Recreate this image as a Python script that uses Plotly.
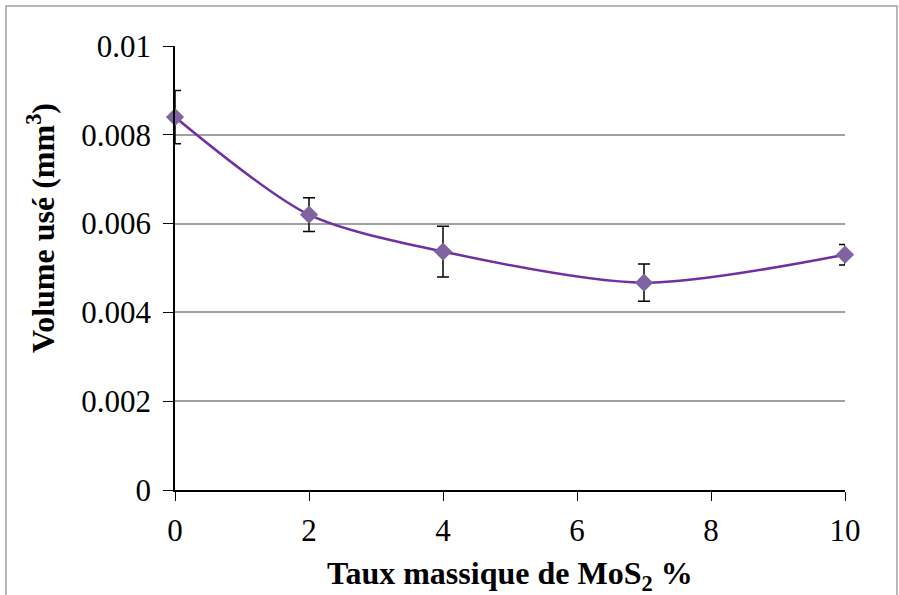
import plotly.graph_objects as go

taux = [0, 2, 4, 7, 10]
volume = [0.0084, 0.0062, 0.00537, 0.00467, 0.0053]
erreur = [0.0006, 0.00038, 0.00057, 0.00042, 0.00023]
y_ticks = [0, 0.002, 0.004, 0.006, 0.008, 0.01]
y_ticklabels = ["0", "0.002", "0.004", "0.006", "0.008", "0.01"]
x_ticks = [0, 2, 4, 6, 8, 10]

font_family = "Liberation Serif, Times New Roman, serif"

fig = go.Figure()
fig.add_trace(go.Scatter(
    x=taux, y=volume, mode="lines",
    line=dict(color="#7030A0", width=2.5, shape="spline", smoothing=0.8),
    hoverinfo="skip", cliponaxis=False, showlegend=False,
))
fig.add_trace(go.Scatter(
    x=taux, y=volume, mode="markers",
    marker=dict(symbol="diamond", size=14, color="#8064A2"),
    error_y=dict(type="data", array=erreur, visible=True, color="black", thickness=1.5, width=6),
    cliponaxis=False, showlegend=False,
))

L, R, T, B = 175, 54, 46, 105
W, H = 899, 595
pw, ph = W - L - R, H - T - B

fig.update_layout(
    width=W, height=H,
    margin=dict(l=L, r=R, t=T, b=B),
    paper_bgcolor="white", plot_bgcolor="white",
    font=dict(family=font_family, color="black", size=31),
    xaxis=dict(
        range=[0, 10], tickvals=x_ticks, showgrid=False, zeroline=False,
        showline=True, linecolor="black", linewidth=1.5,
        ticks="outside", ticklen=9, tickcolor="black", tickwidth=1,
        tickfont=dict(size=31), ticklabelstandoff=3,
    ),
    yaxis=dict(
        range=[0, 0.01], tickvals=y_ticks, ticktext=y_ticklabels,
        showgrid=True, gridcolor="#a0a0a0", gridwidth=2, zeroline=False,
        showline=True, linecolor="black", linewidth=1.5,
        ticks="outside", ticklen=10, tickcolor="black", tickwidth=1,
        tickfont=dict(size=31), ticklabelstandoff=6,
    ),
    annotations=[
        dict(text="<b>Taux massique de MoS<sub>2</sub> %</b>", xref="paper", yref="paper",
             x=0.5, y=(491 - 576) / ph, xanchor="center", yanchor="middle",
             showarrow=False, font=dict(size=32, family=font_family)),
        dict(text="<b>Volume usé (mm<sup>3</sup>)</b>", xref="paper", yref="paper",
             x=(41 - L) / pw, y=(491 - 229) / ph, xanchor="center", yanchor="middle",
             textangle=-90, showarrow=False, font=dict(size=32, family=font_family)),
    ],
    shapes=[
        dict(type="rect", xref="paper", yref="paper",
             x0=(6 - L) / pw, x1=(897 - L) / pw, y0=(491 - 605) / ph, y1=(491 - 7) / ph,
             line=dict(color="#a0a0a0", width=1.5), fillcolor="rgba(0,0,0,0)", layer="below"),
    ],
)

fig.write_html(
    "out.html",
    config={"displayModeBar": False},
    post_script="document.body.style.margin='0px';document.body.style.overflow='hidden';",
)
